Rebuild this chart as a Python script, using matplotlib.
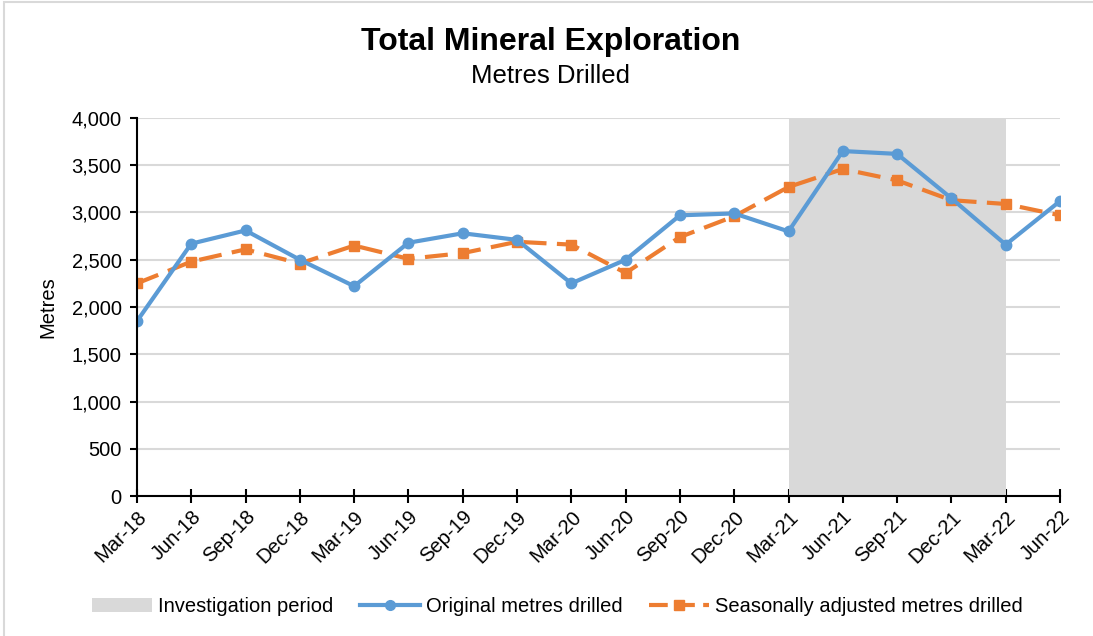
import matplotlib.pyplot as plt
from matplotlib.patches import Patch, Rectangle
from matplotlib.lines import Line2D
from matplotlib.ticker import FuncFormatter

plt.rcParams['font.family'] = ['Liberation Sans', 'DejaVu Sans']

# Quarterly data
quarters = ['Mar-18', 'Jun-18', 'Sep-18', 'Dec-18',
            'Mar-19', 'Jun-19', 'Sep-19', 'Dec-19',
            'Mar-20', 'Jun-20', 'Sep-20', 'Dec-20',
            'Mar-21', 'Jun-21', 'Sep-21', 'Dec-21',
            'Mar-22', 'Jun-22']
original = [1850, 2670, 2810, 2500, 2220, 2680, 2780, 2710, 2250,
            2500, 2970, 2990, 2800, 3650, 3620, 3150, 2660, 3120]
seasonal = [2250, 2480, 2610, 2460, 2650, 2510, 2570, 2690, 2660,
            2360, 2740, 2960, 3270, 3460, 3340, 3130, 3090, 2970]
investigation_start = 'Mar-21'
investigation_end = 'Mar-22'

blue = '#5b9bd5'
orange = '#ed7d31'
shade = '#d9d9d9'

fig = plt.figure(figsize=(10.93, 6.36), dpi=100)
# light frame like the original chart area (left and top edges only)
fig.patches.append(Rectangle((4 / 1093, -0.1), 1.2, 1.1 - 2 / 636, transform=fig.transFigure,
                             fill=False, edgecolor='#d9d9d9', linewidth=1.5))

ax = fig.add_axes([0.1253, 0.2201, 0.9698 - 0.1253, 0.8145 - 0.2201])
x = list(range(len(quarters)))

ax.axvspan(quarters.index(investigation_start), quarters.index(investigation_end),
           ymin=0, ymax=1, color=shade, zorder=1, linewidth=0)
ax.plot(x, original, color=blue, linewidth=3, marker='o', markersize=7.5, zorder=3)
ax.plot(x, seasonal, color=orange, linewidth=3, marker='s', markersize=7.5,
        dashes=(5.5, 2.5), zorder=2)

ax.set_xlim(0, len(quarters) - 1)
ax.set_ylim(0, 4000)
ax.set_yticks(range(0, 4001, 500))
ax.yaxis.set_major_formatter(FuncFormatter(lambda v, p: f'{int(v):,}'))
ax.set_xticks(x)
ax.set_xticklabels(quarters, rotation=45, ha='right', rotation_mode='anchor')

ax.set_axisbelow(True)
ax.grid(axis='y', color='#d9d9d9', linewidth=1.5)
for side in ['top', 'right']:
    ax.spines[side].set_visible(False)
for side in ['left', 'bottom']:
    ax.spines[side].set_linewidth(1.5)
    ax.spines[side].set_zorder(4)
ax.tick_params(axis='x', direction='inout', length=10, width=1.5, labelsize=14.5, pad=3)
ax.tick_params(axis='y', direction='out', length=5, width=1.5, labelsize=14.5, pad=6)
ax.set_ylabel('Metres', fontsize=14.5, labelpad=10)

fig.text(0.504, 1 - 50 / 636, 'Total Mineral Exploration', ha='center', va='baseline',
         fontsize=23, fontweight='bold')
fig.text(0.504, 1 - 83 / 636, 'Metres Drilled', ha='center', va='baseline', fontsize=18.5)

handles = [Patch(facecolor=shade, edgecolor='none'),
           Line2D([0], [0], color=blue, linewidth=3, marker='o', markersize=7),
           Line2D([0], [0], color=orange, linewidth=3, marker='s', markersize=7.5,
                  dashes=(4.5, 2.0))]
labels = ['Investigation period', 'Original metres drilled',
          'Seasonally adjusted metres drilled']
fig.legend(handles, labels, loc='center', bbox_to_anchor=(0.51, 0.047), ncol=3,
           frameon=False, fontsize=14.5, handlelength=3, columnspacing=1.3,
           handletextpad=0.3)

fig.savefig('out.png', dpi=100)
